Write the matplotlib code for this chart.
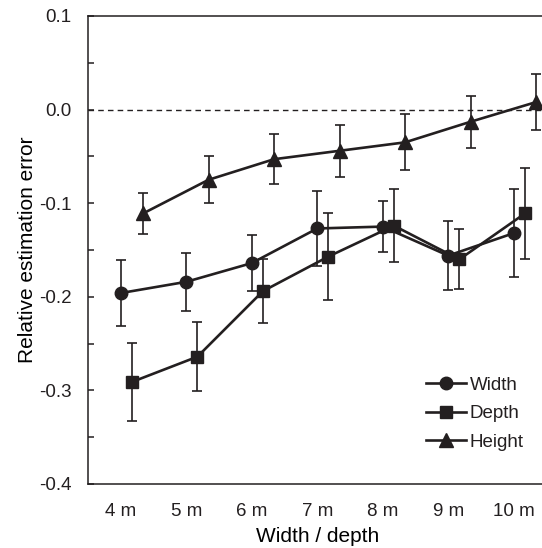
import numpy as np
import matplotlib.pyplot as plt
from matplotlib.ticker import MultipleLocator
from matplotlib.lines import Line2D

# значення
sizes = ['4 m', '5 m', '6 m', '7 m', '8 m', '9 m', '10 m']
width = [-0.196, -0.184, -0.164, -0.127, -0.125, -0.156, -0.132]
width_err = [0.035, 0.031, 0.030, 0.040, 0.027, 0.037, 0.047]
depth = [-0.291, -0.264, -0.194, -0.157, -0.124, -0.160, -0.111]
depth_err = [0.042, 0.037, 0.034, 0.046, 0.039, 0.032, 0.049]
height = [-0.111, -0.075, -0.053, -0.044, -0.035, -0.013, 0.008]
height_err = [0.022, 0.025, 0.027, 0.028, 0.030, 0.028, 0.030]

ink = '#231f20'
plt.rcParams['font.family'] = ['Liberation Sans', 'DejaVu Sans']
plt.rcParams['text.color'] = ink

fig = plt.figure(figsize=(5.42, 5.48), dpi=100)
ax = fig.add_axes([88 / 542, 64 / 548, 458.5 / 542, 468 / 548])

x = np.arange(4, 4 + len(sizes))
series = [
    (width, width_err, 'o', 9, 0.0, 'Width'),
    (depth, depth_err, 's', 8.5, 0.17, 'Depth'),
    (height, height_err, '^', 9.5, 0.34, 'Height'),
]
handles = []
for vals, err, m, ms, shift, lab in series:
    ax.errorbar(x + shift, vals, yerr=err, fmt='-' + m, color=ink, ms=ms,
                lw=1.9, elinewidth=1.2, capsize=3.3, capthick=1.2)
    handles.append(Line2D([], [], color=ink, marker=m, ms=ms, lw=1.9, label=lab))

ax.axhline(0, color=ink, lw=1.0, ls=(0, (4, 3)), zorder=0)

ax.set_xlim(3.5, 10.5)
ax.set_ylim(-0.4, 0.1)
ax.set_xticks(x)
ax.set_xticklabels(sizes)
ax.yaxis.set_major_locator(MultipleLocator(0.1))
ax.yaxis.set_minor_locator(MultipleLocator(0.05))
ax.yaxis.set_major_formatter(plt.FuncFormatter(lambda v, p: f'{v:.1f}'))
ax.tick_params(axis='y', which='both', direction='in', length=4.5, width=1.1,
               color=ink, labelsize=13.5, pad=12, labelcolor=ink)
ax.tick_params(axis='x', length=0, labelsize=13.5, pad=14, labelcolor=ink)
for s in ax.spines.values():
    s.set_color(ink)
    s.set_linewidth(1.1)

ax.set_xlabel('Width / depth', fontsize=15, labelpad=5)
ax.set_ylabel('Relative estimation error', fontsize=15, labelpad=1)

ax.legend(handles=handles, loc='upper left', bbox_to_anchor=(0.738, 0.229),
          frameon=False, fontsize=13.5, handlelength=2.1, handletextpad=0.2,
          labelspacing=0.6, borderpad=0, borderaxespad=0)

fig.savefig('out.png', dpi=100)
